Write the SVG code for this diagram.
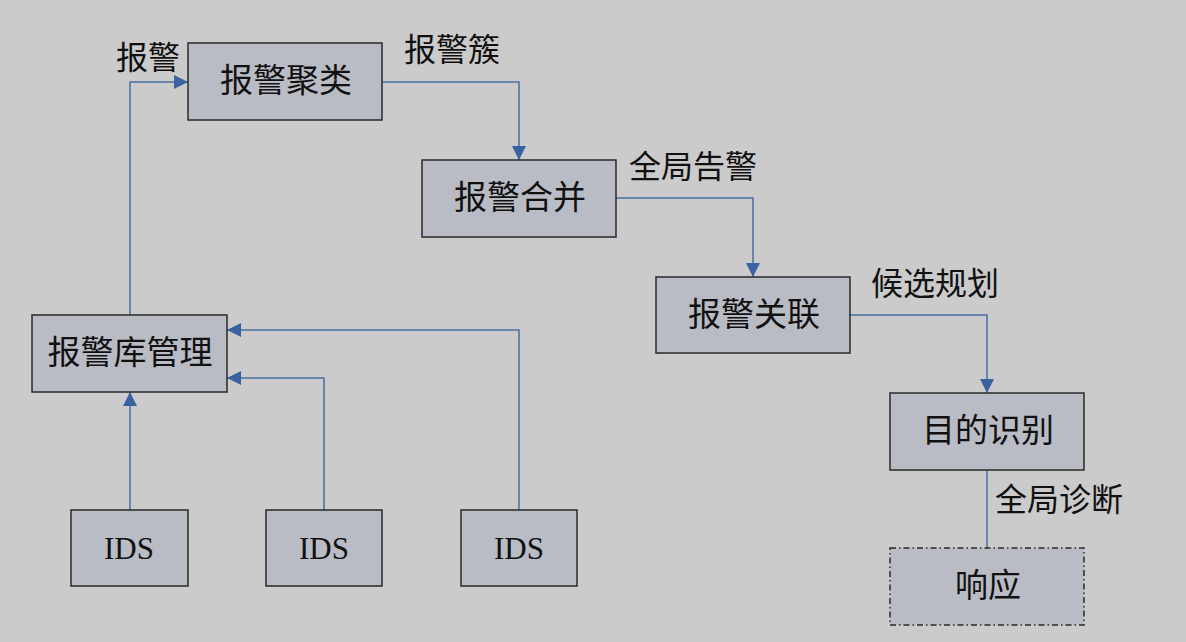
<svg xmlns="http://www.w3.org/2000/svg" width="1186" height="642" viewBox="0 0 1186 642">
<style>
.box{fill:#b9bcc4;stroke:#2a2a2a;stroke-width:1.5}
.dash{fill:#b9bcc4;stroke:#2a2a2a;stroke-width:1.5;stroke-dasharray:6,3,1.5,3}
.t{font-family:"Liberation Serif","Noto Sans CJK SC",serif;font-size:33px;fill:#111;text-anchor:middle;dominant-baseline:central}
.ids{font-size:31px}
.l{font-family:"Liberation Serif","Noto Sans CJK SC",serif;font-size:32px;fill:#111;dominant-baseline:central}
.c{fill:none;stroke:#4a6fa5;stroke-width:1.5}
</style>
<defs>
<marker id="a" viewBox="0 0 10 10" refX="10" refY="5" markerWidth="14" markerHeight="14" markerUnits="userSpaceOnUse" orient="auto">
<path d="M0,0L10,5L0,10z" fill="#3a62a0"/>
</marker>
</defs>
<rect width="1186" height="642" fill="#cbcbcb"/>
<g id="connectors">
<path class="c" d="M130,315V82H188" marker-end="url(#a)"/>
<path class="c" d="M382,82H519V160" marker-end="url(#a)"/>
<path class="c" d="M616,198H753V277" marker-end="url(#a)"/>
<path class="c" d="M850,315H987V393" marker-end="url(#a)"/>
<path class="c" d="M987,470V548"/>
<path class="c" d="M130,510V392" marker-end="url(#a)"/>
<path class="c" d="M324,510V378H227" marker-end="url(#a)"/>
<path class="c" d="M519,510V330H227" marker-end="url(#a)"/>
</g>
<g id="labels">
<text class="l" x="116" y="58">报警</text>
<text class="l" x="404" y="50">报警簇</text>
<text class="l" x="629" y="167">全局告警</text>
<text class="l" x="871" y="284">候选规划</text>
<text class="l" x="995" y="500">全局诊断</text>
</g>
<g id="n1"><rect class="box" x="188" y="43" width="194" height="77"/><text class="t" x="286" y="81">报警聚类</text></g>
<g id="n2"><rect class="box" x="422" y="160" width="194" height="77"/><text class="t" x="520" y="198">报警合并</text></g>
<g id="n3"><rect class="box" x="656" y="277" width="194" height="76"/><text class="t" x="754" y="315">报警关联</text></g>
<g id="n4"><rect class="box" x="890" y="393" width="194" height="77"/><text class="t" x="988" y="431">目的识别</text></g>
<g id="n5"><rect class="dash" x="890" y="548" width="194" height="77"/><text class="t" x="988" y="586">响应</text></g>
<g id="n6"><rect class="box" x="32" y="315" width="195" height="77"/><text class="t" x="130" y="353">报警库管理</text></g>
<g id="ids1"><rect class="box" x="71" y="510" width="117" height="76"/><text class="t ids" x="129" y="548">IDS</text></g>
<g id="ids2"><rect class="box" x="266" y="510" width="116" height="76"/><text class="t ids" x="324" y="548">IDS</text></g>
<g id="ids3"><rect class="box" x="461" y="510" width="116" height="76"/><text class="t ids" x="519" y="548">IDS</text></g>
</svg>
